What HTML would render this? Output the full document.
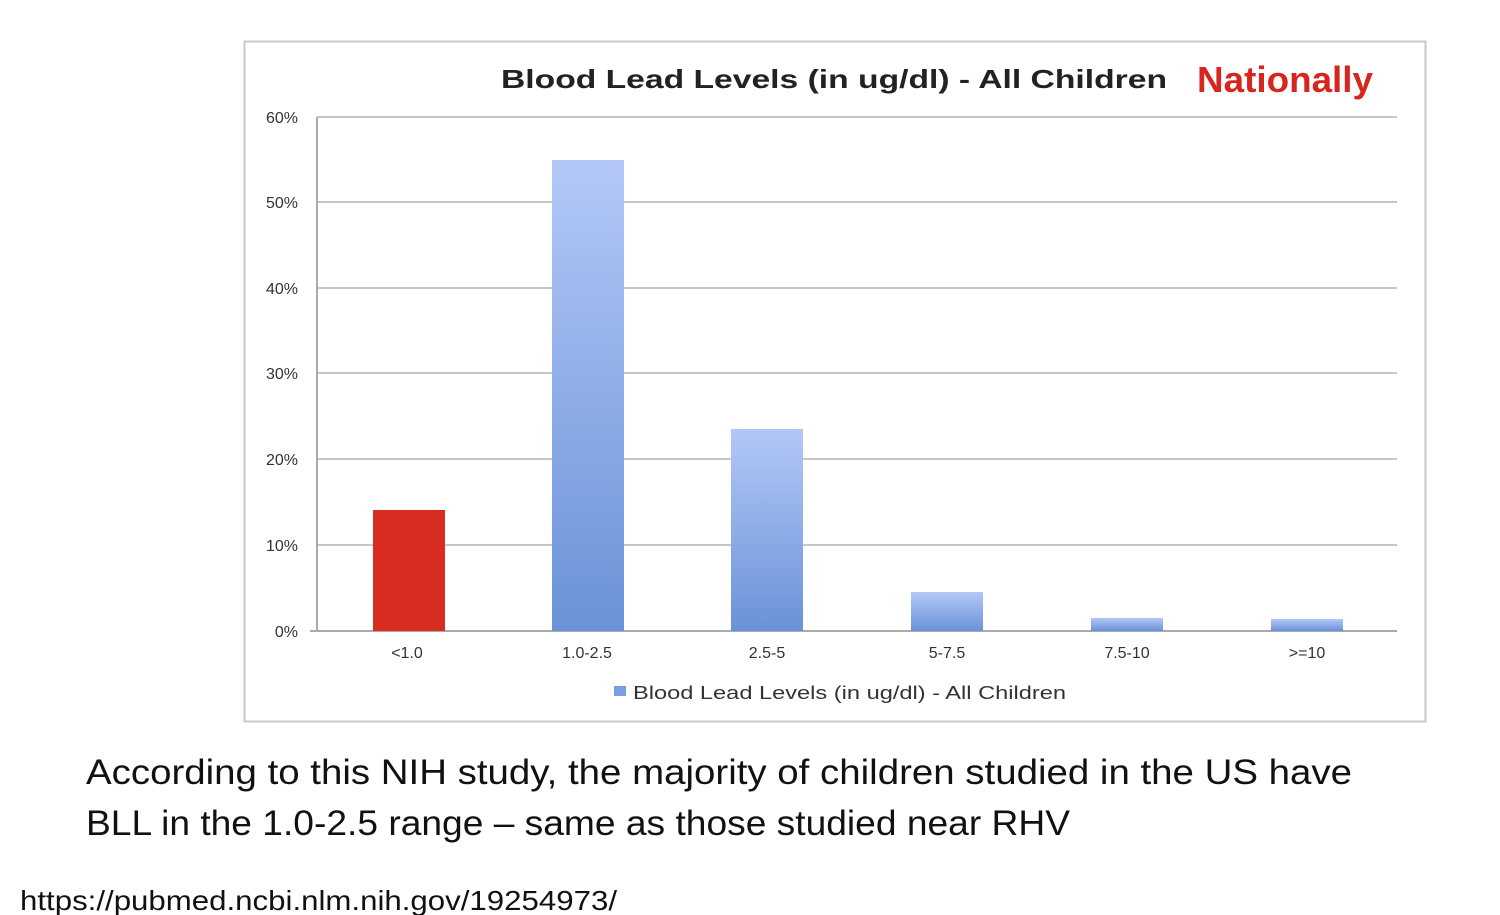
<!DOCTYPE html>
<html><head><style>
body{margin:0;width:1500px;height:915px;background:#fff;overflow:hidden;font-family:"Liberation Sans",sans-serif;}
</style></head><body>
<svg width="1500" height="915" xmlns="http://www.w3.org/2000/svg" style="position:absolute;left:0;top:0">
<defs>
<linearGradient id="b" x1="0" y1="0" x2="0" y2="1">
<stop offset="0" stop-color="#b3c8f7"/><stop offset="1" stop-color="#6a92d8"/>
</linearGradient>
</defs>
<rect x="244.5" y="41.5" width="1181" height="680" fill="#fff" stroke="#c8c8c8" stroke-width="2"/>
<text x="501" y="88" textLength="666" lengthAdjust="spacingAndGlyphs" font-family="Liberation Sans" font-weight="bold" font-size="26" fill="#222">Blood Lead Levels (in ug/dl) - All Children</text>
<text x="1197" y="92" textLength="176" lengthAdjust="spacingAndGlyphs" font-family="Liberation Sans" font-weight="bold" font-size="36" fill="#d8261f">Nationally</text>
<g stroke="#c6c6c6" stroke-width="2">
<line x1="317" y1="117" x2="1397" y2="117"/>
<line x1="317" y1="202" x2="1397" y2="202"/>
<line x1="317" y1="288" x2="1397" y2="288"/>
<line x1="317" y1="373" x2="1397" y2="373"/>
<line x1="317" y1="459" x2="1397" y2="459"/>
<line x1="317" y1="545" x2="1397" y2="545"/>
<line x1="310" y1="631" x2="1397" y2="631" stroke="#aaa"/>
<line x1="317" y1="117" x2="317" y2="631" stroke="#aaa"/>
</g>
<g font-family="Liberation Sans" font-size="16" fill="#333" text-anchor="end">
<text x="298" y="123">60%</text><text x="298" y="208">50%</text><text x="298" y="294">40%</text>
<text x="298" y="379">30%</text><text x="298" y="465">20%</text><text x="298" y="551">10%</text><text x="298" y="637">0%</text>
</g>
<rect x="373" y="510" width="72" height="121" fill="#d82c20"/>
<rect x="552" y="160" width="72" height="471" fill="url(#b)"/>
<rect x="731" y="429" width="72" height="202" fill="url(#b)"/>
<rect x="911" y="592" width="72" height="39" fill="url(#b)"/>
<rect x="1091" y="618" width="72" height="13" fill="url(#b)"/>
<rect x="1271" y="619" width="72" height="12" fill="url(#b)"/>
<g font-family="Liberation Sans" font-size="16" fill="#333" text-anchor="middle">
<text x="407" y="658">&lt;1.0</text><text x="587" y="658">1.0-2.5</text><text x="767" y="658">2.5-5</text>
<text x="947" y="658">5-7.5</text><text x="1127" y="658">7.5-10</text><text x="1307" y="658">&gt;=10</text>
</g>
<rect x="614" y="686" width="12" height="10" fill="#7c9ee0"/>
<text x="633" y="699" textLength="433" lengthAdjust="spacingAndGlyphs" font-family="Liberation Sans" font-size="18" fill="#333">Blood Lead Levels (in ug/dl) - All Children</text>
<text x="86" y="784" textLength="1266" lengthAdjust="spacingAndGlyphs" font-family="Liberation Sans" font-size="35" fill="#111">According to this NIH study, the majority of children studied in the US have</text>
<text x="86" y="835" textLength="984" lengthAdjust="spacingAndGlyphs" font-family="Liberation Sans" font-size="35" fill="#111">BLL in the 1.0-2.5 range – same as those studied near RHV</text>
<text x="20" y="910" textLength="597" lengthAdjust="spacingAndGlyphs" font-family="Liberation Sans" font-size="28" fill="#111">https://pubmed.ncbi.nlm.nih.gov/19254973/</text>
</svg>
</body></html>
